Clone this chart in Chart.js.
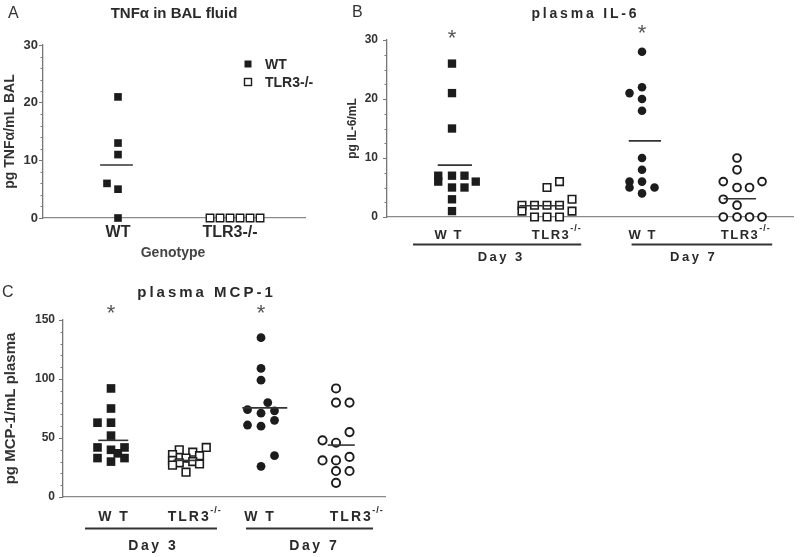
<!DOCTYPE html>
<html><head><meta charset="utf-8">
<script src="https://cdn.jsdelivr.net/npm/chart.js@4.4.1/dist/chart.umd.min.js"></script>
<style>
html,body{margin:0;padding:0;background:#fff;}
#wrap{position:relative;width:800px;height:557px;overflow:hidden;background:#fff;}
canvas{position:absolute;left:0;top:0;}
</style></head><body>
<div id="wrap">
<canvas id="cA" width="800" height="557"></canvas>
<canvas id="cB" width="800" height="557"></canvas>
<canvas id="cC" width="800" height="557"></canvas>
</div>
<script>
// ================= DATA =================
// Panel A: TNFα in BAL fluid (pg/mL)
const aCategories = ['WT', 'TLR3-/-'];
const aWT = [21, 13, 11, 6, 5, 0];
const aWTJitter = [0, 0, 0, -1.1, 0, 0];
const aKO = [0, 0, 0, 0, 0, 0];
const aKOJitter = [-2.5, -1.5, -0.5, 0.5, 1.5, 2.5];
const aMeans = [9.2, null];
const aYTicks = [0, 10, 20, 30];
const aLegend = ['WT', 'TLR3-/-'];

// Panel B: plasma IL-6 (pg/mL)
const bCatMain = ['W T', 'TLR3', 'W T', 'TLR3'];
const bCatSup = ['', '-/-', '', '-/-'];
const bDays = ['Day 3', 'Day 7'];
const bWTd3 = [26, 21, 15, 7, 6, 7, 7, 6, 5, 5, 3, 1];
const bWTd3J = [0, 0, 0, -1.1, -1.1, 0, 1, 1.9, 0, 1, 0, 0];
const bKOd3 = [6, 5, 3, 2, 2, 2, 2, 1, 1, 0, 0, 0];
const bKOd3J = [1, 0, 2, -2, -1, 0, 1, -2, 2, -1, 0, 1];
const bWTd7 = [28, 22, 21, 20, 18, 10, 8, 6, 6, 5, 5, 4];
const bWTd7J = [0, 0, -1, 0, 0, 0, 0, -1, 0, -1, 1, 0];
const bKOd7 = [10, 8, 6, 6, 5, 5, 3, 2, 0, 0, 0, 0];
const bKOd7J = [0, 0, -1.1, 2, 0, 1, -1.1, 0, -1.1, 0, 1, 2];
const bMeans = [8.8, 1.9, 12.9, 3.1];
const bStars = [30, null, 30.8, null];
const bYTicks = [0, 10, 20, 30];

// Panel C: plasma MCP-1 (pg/mL)
const cCatMain = ['W T', 'TLR3', 'W T', 'TLR3'];
const cCatSup = ['', '-/-', '', '-/-'];
const cDays = ['Day 3', 'Day 7'];
const cWTd3 = [92, 75, 63, 63, 52, 42, 40, 42, 37, 33, 33, 30];
const cWTd3J = [0, 0, -1, 0, 0, -1, 0, 1, 0.5, -1, 1, 0];
const cKOd3 = [42, 40, 38, 36, 35, 33, 31, 30, 29, 28, 27, 21];
const cKOd3J = [1.5, -0.5, 0.5, -1, 1, 0, -1, 0.5, -0.5, 1, -1, 0];
const cWTd7 = [135, 109, 99, 80, 74, 71, 73, 65, 61, 60, 35, 26];
const cWTd7J = [0, 0, 0, 0.5, -1, 0, 1, 1, -1, 0, 1, 0];
const cKOd7 = [92, 80, 80, 55, 48, 46, 34, 31, 31, 22, 22, 12];
const cKOd7J = [0, 0, 1, 1, -1, 0, 1, -1, 0, 0, 1, 0];
const cMeans = [48, 31, 75.5, 44];
const cStars = [154, null, 154, null];
const cYTicks = [0, 50, 100, 150];

// ================= HELPERS =================
Chart.defaults.font.family = '"Liberation Sans", Arial, Helvetica, sans-serif';
Chart.defaults.color = '#333';
const INK = '#1c1c1c';
const TXT = '#2a2a2a';

function pts(values, jitter, cat, slot) {
  return values.map((v, i) => ({x: cat + jitter[i] * slot, y: v}));
}
function filledSet(data, style, r) {
  return {type: 'scatter', data, pointStyle: style, pointRadius: r, pointHoverRadius: r,
    backgroundColor: INK, borderColor: INK, borderWidth: 0, clip: false, order: 2};
}
function openSet(data, style, r, bw) {
  return {type: 'scatter', data, pointStyle: style, pointRadius: r, pointHoverRadius: r,
    backgroundColor: '#fff', borderColor: INK, borderWidth: bw, clip: false, order: 2};
}
function meanSet(m, cat, dx, hw) {
  return {type: 'line', data: [{x: cat + dx - hw, y: m}, {x: cat + dx + hw, y: m}],
    showLine: true, borderColor: '#333', borderWidth: 1.6, pointRadius: 0, clip: false, order: 1};
}

function setText(ctx, font, ls, color) {
  ctx.font = font; ctx.letterSpacing = (ls || 0) + 'px'; ctx.fillStyle = color || TXT;
}
function textW(ctx, s, ls) { return ctx.measureText(s).width - (ls || 0); }

const decor = {
  id: 'decor',
  afterDraw(chart, args, o) {
    const ctx = chart.ctx, xs = chart.scales.x, ys = chart.scales.y, ca = chart.chartArea;
    ctx.save();
    // minor ticks
    if (o.minor) {
      ctx.strokeStyle = '#777'; ctx.lineWidth = 1;
      for (let v = ys.min + o.minor; v < ys.max + 1e-9; v += o.minor) {
        const k = v / o.major;
        if (Math.abs(k - Math.round(k)) < 1e-6) continue;
        const y = Math.round(ys.getPixelForValue(v)) + 0.5;
        ctx.beginPath(); ctx.moveTo(ca.left, y); ctx.lineTo(ca.left - 2.5, y); ctx.stroke();
      }
    }
    ctx.textBaseline = 'middle';
    // plain texts (titles, panel letters)
    (o.texts || []).forEach(t => {
      setText(ctx, t.font, t.ls, t.color);
      const w = textW(ctx, t.text, t.ls);
      let x = t.x;
      if (t.align === 'center') x = t.x - w / 2;
      ctx.textAlign = 'left';
      ctx.fillText(t.text, x, t.y);
    });
    // category labels (with optional superscript)
    (o.cats || []).forEach((c, i) => {
      const cx = xs.getPixelForValue(i) + (o.catDx ? o.catDx[i] : 0);
      setText(ctx, o.catFont, o.catLs);
      const w1 = textW(ctx, c.main, o.catLs);
      let w2 = 0;
      if (c.sup) { setText(ctx, o.supFont, o.supLs); w2 = textW(ctx, c.sup, o.supLs) + 1; }
      const x0 = cx - (w1 + w2) / 2;
      ctx.textAlign = 'left';
      setText(ctx, o.catFont, o.catLs);
      ctx.fillText(c.main, x0, o.catY);
      if (c.sup) { setText(ctx, o.supFont, o.supLs); ctx.fillText(c.sup, x0 + w1 + 1.5, o.catY - 6); }
    });
    // brackets + day labels
    (o.groups || []).forEach(g => {
      const x1 = xs.getPixelForValue(g.from), x2 = xs.getPixelForValue(g.to);
      ctx.strokeStyle = '#333'; ctx.lineWidth = 1.8;
      ctx.beginPath(); ctx.moveTo(x1, o.bracketY); ctx.lineTo(x2, o.bracketY); ctx.stroke();
      setText(ctx, o.dayFont, o.dayLs);
      const w = textW(ctx, g.label, o.dayLs);
      ctx.textAlign = 'left';
      ctx.fillText(g.label, xs.getPixelForValue(g.at) - w / 2, o.dayY);
    });
    // asterisks
    (o.stars || []).forEach((s, i) => {
      if (s == null) return;
      setText(ctx, o.starFont, 0, '#555');
      const m = ctx.measureText('*');
      ctx.textBaseline = 'alphabetic';
      const x = xs.getPixelForValue(i) - m.width / 2;
      const y = ys.getPixelForValue(s) + (m.actualBoundingBoxAscent - m.actualBoundingBoxDescent) / 2;
      ctx.fillText('*', x, y);
      ctx.textBaseline = 'middle';
    });
    // legend
    if (o.legend) {
      const L = o.legend;
      L.items.forEach((it, i) => {
        const y = L.y + i * L.dy;
        if (it.filled) { ctx.fillStyle = INK; ctx.fillRect(L.x - 3.5, y - 3.5, 7, 7); }
        else { ctx.fillStyle = '#fff'; ctx.strokeStyle = INK; ctx.lineWidth = 1.4;
               ctx.fillRect(L.x - 3.5, y - 3.5, 7, 7); ctx.strokeRect(L.x - 3.5, y - 3.5, 7, 7); }
        setText(ctx, L.font, 0);
        ctx.textAlign = 'left';
        ctx.fillText(it.text, L.tx, y + 1);
      });
    }
    ctx.restore();
  }
};
Chart.register(decor);

function makeOptions(c) {
  return {
    responsive: false, animation: false, events: [],
    layout: {padding: c.pad},
    plugins: {legend: {display: false}, tooltip: {enabled: false}, decor: c.decor},
    scales: {
      x: {type: 'linear', min: c.xmin, max: c.xmax,
        ticks: {display: false},
        grid: {display: true, drawOnChartArea: false, drawTicks: false},
        border: {display: true, color: '#8a8a8a', width: 1.3},
        afterFit(s) { s.height = 0; }},
      y: {type: 'linear', min: c.ymin, max: c.ymax,
        afterBuildTicks(s) { s.ticks = c.yticks.map(v => ({value: v})); },
        ticks: {font: {size: c.tickSize, weight: 'bold'}, color: '#333', padding: c.tickPad},
        grid: {display: true, drawOnChartArea: false, drawTicks: true, tickLength: 4, color: '#777', tickWidth: 1},
        border: {display: true, color: '#777', width: 1.3},
        title: {display: true, text: c.ytitle, font: {size: c.ytitleSize, weight: 'bold'}, color: '#333',
          padding: {top: c.ytitlePad, bottom: 0}},
        afterFit(s) { s.width = c.yw; }}
    }
  };
}

// ================= PANEL A =================
{
  const slot = 0.0855;
  const datasets = [
    meanSet(aMeans[0], 0, -0.013, 0.14),
    filledSet(pts(aWT, aWTJitter, 0, slot), 'rect', 5.4),
    openSet(pts(aKO, aKOJitter, 1, slot), 'rect', 5.3, 1.4)
  ];
  new Chart(document.getElementById('cA'), {
    type: 'scatter', data: {datasets},
    options: makeOptions({
      pad: {left: 0, top: 45, right: 495, bottom: 339},
      xmin: -0.641, xmax: 1.598, ymin: 0, ymax: 30, yticks: aYTicks,
      tickSize: 13, tickPad: 1, ytitle: 'pg TNFα/mL BAL', ytitleSize: 14, ytitlePad: 2, yw: 43,
      decor: {
        minor: 2, major: 10,
        texts: [
          {text: 'A', x: 8, y: 14, font: '16px "Liberation Sans", Arial, sans-serif', color: '#333'},
          {text: 'TNFα in BAL fluid', x: 174, y: 14, align: 'center', font: 'bold 15px "Liberation Sans", Arial, sans-serif'},
          {text: 'Genotype', x: 173, y: 253, align: 'center', font: 'bold 14px "Liberation Sans", Arial, sans-serif', color: '#444'}
        ],
        cats: aCategories.map(m => ({main: m, sup: ''})),
        catDx: [0, -5], catY: 233, catFont: 'bold 16px "Liberation Sans", Arial, sans-serif', catLs: 0,
        legend: {x: 248, tx: 265, y: 64, dy: 18, font: 'bold 14px "Liberation Sans", Arial, sans-serif',
          items: [{text: aLegend[0], filled: true}, {text: aLegend[1], filled: false}]}
      }
    })
  });
}

// ================= PANEL B =================
{
  const slot = 0.1316;
  const hw = [0.18, 0.23, 0.17, 0.17], dx = [0.03, -0.06, 0.03, 0.03];
  const datasets = [
    ...bMeans.map((m, i) => meanSet(m, i, dx[i], hw[i])),
    filledSet(pts(bWTd3, bWTd3J, 0, slot), 'rect', 5.9),
    openSet(pts(bKOd3, bKOd3J, 1, slot), 'rect', 5.3, 1.6),
    filledSet(pts(bWTd7, bWTd7J, 2, slot), 'circle', 4.3),
    openSet(pts(bKOd7, bKOd7J, 3, slot), 'circle', 3.9, 1.9)
  ];
  new Chart(document.getElementById('cB'), {
    type: 'scatter', data: {datasets},
    options: makeOptions({
      pad: {left: 345, top: 40, right: 7, bottom: 340},
      xmin: -0.684, xmax: 3.589, ymin: 0, ymax: 30, yticks: bYTicks,
      tickSize: 12, tickPad: 5, ytitle: 'pg IL-6/mL', ytitleSize: 12, ytitlePad: 0, yw: 42,
      decor: {
        minor: 2.5, major: 10,
        texts: [
          {text: 'B', x: 352, y: 13, font: '16px "Liberation Sans", Arial, sans-serif', color: '#333'},
          {text: 'plasma IL-6', x: 584, y: 14, align: 'center', ls: 2.8, font: 'bold 14px "Liberation Sans", Arial, sans-serif'}
        ],
        cats: bCatMain.map((m, i) => ({main: m, sup: bCatSup[i]})),
        catDx: [-4, 9, 0, 8], catY: 235,
        catFont: 'bold 13px "Liberation Sans", Arial, sans-serif', catLs: 1.5,
        supFont: 'bold 9px "Liberation Sans", Arial, sans-serif', supLs: 1,
        bracketY: 244.5, dayY: 257, dayFont: 'bold 13px "Liberation Sans", Arial, sans-serif', dayLs: 2.5,
        groups: [{from: -0.41, to: 1.36, at: 0.505, label: bDays[0]}, {from: 1.89, to: 3.37, at: 2.53, label: bDays[1]}],
        stars: bStars, starFont: '22px "Liberation Sans", Arial, sans-serif'
      }
    })
  });
}

// ================= PANEL C =================
{
  const slot = 0.18;
  const hw = [0.2, 0.17, 0.3, 0.18], dx = [0.03, 0, 0.05, 0.07];
  const datasets = [
    ...cMeans.map((m, i) => meanSet(m, i, dx[i], hw[i])),
    filledSet(pts(cWTd3, cWTd3J, 0, slot), 'rect', 6.1),
    openSet(pts(cKOd3, cKOd3J, 1, slot), 'rect', 5.4, 1.6),
    filledSet(pts(cWTd7, cWTd7J, 2, slot), 'circle', 4.4),
    openSet(pts(cKOd7, cKOd7J, 3, slot), 'circle', 4.1, 1.9)
  ];
  new Chart(document.getElementById('cC'), {
    type: 'scatter', data: {datasets},
    options: makeOptions({
      pad: {left: 0, top: 320, right: 415, bottom: 60},
      xmin: -0.64, xmax: 3.653, ymin: 0, ymax: 150, yticks: cYTicks,
      tickSize: 12, tickPad: 4, ytitle: 'pg MCP-1/mL plasma', ytitleSize: 15, ytitlePad: 2, yw: 63,
      decor: {
        minor: 10, major: 50,
        texts: [
          {text: 'C', x: 2, y: 293, font: '16px "Liberation Sans", Arial, sans-serif', color: '#333'},
          {text: 'plasma MCP-1', x: 205, y: 293, align: 'center', ls: 3, font: 'bold 15px "Liberation Sans", Arial, sans-serif'}
        ],
        cats: cCatMain.map((m, i) => ({main: m, sup: cCatSup[i]})),
        catDx: [2, 8, -2, 20], catY: 517,
        catFont: 'bold 14px "Liberation Sans", Arial, sans-serif', catLs: 2,
        supFont: 'bold 9px "Liberation Sans", Arial, sans-serif', supLs: 1,
        bracketY: 528.5, dayY: 546, dayFont: 'bold 14px "Liberation Sans", Arial, sans-serif', dayLs: 2.5,
        groups: [{from: -0.347, to: 1.413, at: 0.547, label: cDays[0]}, {from: 1.8, to: 3.493, at: 2.693, label: cDays[1]}],
        stars: cStars, starFont: '22px "Liberation Sans", Arial, sans-serif'
      }
    })
  });
}
</script>
</body></html>
